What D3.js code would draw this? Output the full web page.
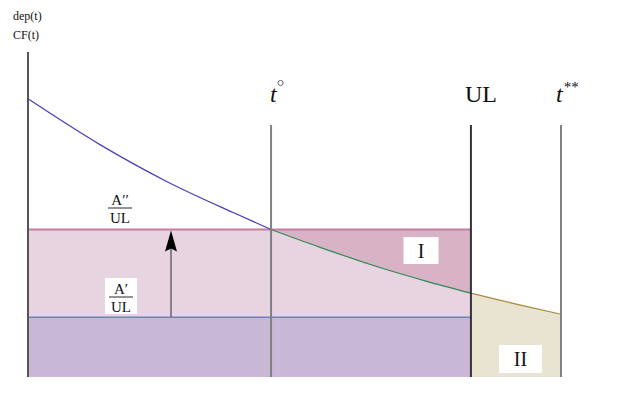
<!DOCTYPE html>
<html>
<head>
<meta charset="utf-8">
<script src="https://cdn.jsdelivr.net/npm/d3@7"></script>
<style>
  body { margin: 0; background: #fff; }
</style>
</head>
<body>
<div id="chart"></div>
<script>
// curve dep(t) / CF(t) (time 0..100, value 0..100)
const curveT = [0, 13.5, 26.1, 38.5, 45.6, 54.8, 66.0, 74.5, 83.1, 91.6, 100];
const curveV = [85.6, 71.5, 60.1, 50.6, 45.4, 39.9, 33.7, 29.6, 25.8, 22.4, 19.3];

// vertical markers
const markerNames = ["t°", "UL", "t**"];
const markerT = [45.6, 83.1, 100];

// horizontal levels A'/UL and A''/UL
const levelNames = ["A′", "A′′"];
const levelV = [18.4, 45.4];

const regionNames = ["I", "II"];

const width = 620, height = 403;
const margin = { top: 52, right: 59, bottom: 26, left: 28 };
const serif = "'Liberation Serif', 'Times New Roman', Times, 'DejaVu Serif', serif";

const svg = d3.select("#chart").append("svg")
  .attr("width", width)
  .attr("height", height)
  .attr("font-family", serif)
  .style("font-family", serif);

const x = d3.scaleLinear().domain([0, 100]).range([margin.left, width - margin.right]);
const y = d3.scaleLinear().domain([0, 100]).range([height - margin.bottom, margin.top]);

const pts = curveT.map((t, i) => ({ t: t, v: curveV[i] }));
const tDeg = markerT[0], tUL = markerT[1], tEnd = markerT[2];
const lo = levelV[0], hi = levelV[1];

const seg = (a, b) => pts.filter(d => d.t >= a - 1e-9 && d.t <= b + 1e-9);

// pink band between the two levels
svg.append("rect")
  .attr("x", x(0)).attr("y", y(hi))
  .attr("width", x(tUL) - x(0)).attr("height", y(lo) - y(hi))
  .attr("fill", "#e8d4e0");

// region I : between upper level and the curve
const areaI = d3.area()
  .x(d => x(d.t)).y0(y(hi)).y1(d => y(d.v))
  .curve(d3.curveMonotoneX);
svg.append("path").datum(seg(tDeg, tUL))
  .attr("d", areaI).attr("fill", "#d8b2c5");

// purple base
svg.append("rect")
  .attr("x", x(0)).attr("y", y(lo))
  .attr("width", x(tUL) - x(0)).attr("height", y(0) - y(lo))
  .attr("fill", "#c9b8d5");

// region II : under the curve after UL
const areaII = d3.area()
  .x(d => x(d.t)).y0(y(0)).y1(d => y(d.v))
  .curve(d3.curveMonotoneX);
svg.append("path").datum(seg(tUL, tEnd))
  .attr("d", areaII).attr("fill", "#e9e3d1");

// level lines
svg.append("line")
  .attr("x1", x(0)).attr("x2", x(tUL)).attr("y1", y(hi)).attr("y2", y(hi))
  .attr("stroke", "#c47fa3").attr("stroke-width", 2);
svg.append("line")
  .attr("x1", x(0)).attr("x2", x(tUL)).attr("y1", y(lo)).attr("y2", y(lo))
  .attr("stroke", "#7080c4").attr("stroke-width", 1.5);

// curve, coloured by segment
const line = d3.line().x(d => x(d.t)).y(d => y(d.v)).curve(d3.curveMonotoneX);
[[0, tDeg, "#4a3fb5"], [tDeg, tUL, "#2f8a55"], [tUL, tEnd, "#a88a3a"]].forEach(s => {
  svg.append("path").datum(seg(s[0], s[1]))
    .attr("d", line).attr("fill", "none")
    .attr("stroke", s[2]).attr("stroke-width", 1.2);
});

// vertical axis
svg.append("line")
  .attr("x1", x(0)).attr("x2", x(0)).attr("y1", y(100)).attr("y2", y(0))
  .attr("stroke", "#555").attr("stroke-width", 2);

// marker lines + labels
markerT.forEach((t, i) => {
  svg.append("line")
    .attr("x1", x(t)).attr("x2", x(t)).attr("y1", 125).attr("y2", y(0))
    .attr("stroke", i == 1 ? "#333" : "#808080").attr("stroke-width", 2);
});
svg.append("text").attr("x", x(tDeg) - 1).attr("y", 102)
  .style("font-size", "24px").style("font-style", "italic").attr("fill", "#111")
  .text("t");
svg.append("circle").attr("cx", x(tDeg) + 9.5).attr("cy", 83).attr("r", 2.6)
  .attr("fill", "none").attr("stroke", "#555").attr("stroke-width", 0.9);
svg.append("text").attr("x", x(tUL) - 6).attr("y", 102)
  .style("font-size", "24px").attr("fill", "#111")
  .text(markerNames[1]);
svg.append("text").attr("x", x(tEnd) - 5).attr("y", 102)
  .style("font-size", "24px").style("font-style", "italic").attr("fill", "#111")
  .text("t")
  .append("tspan").attr("dx", 1).attr("dy", -10).style("font-size", "15px").style("font-style", "normal").text("**");

// axis caption
svg.append("text").attr("x", 13).attr("y", 20).style("font-size", "12px").attr("fill", "#111").text("dep(t)");
svg.append("text").attr("x", 13).attr("y", 39).style("font-size", "12px").attr("fill", "#111").text("CF(t)");

// fraction labels
function fraction(cx, numY, name, box) {
  const g = svg.append("g");
  if (box) {
    g.append("rect").attr("x", cx - 16).attr("y", numY - 16)
      .attr("width", 32).attr("height", 36).attr("fill", "#fff");
  }
  g.append("text").attr("x", cx).attr("y", numY)
    .attr("text-anchor", "middle").style("font-size", "15px").attr("fill", "#111").text(name);
  g.append("line").attr("x1", cx - 12).attr("x2", cx + 12)
    .attr("y1", numY + 3).attr("y2", numY + 3)
    .attr("stroke", "#111").attr("stroke-width", 0.9);
  g.append("text").attr("x", cx).attr("y", numY + 18)
    .attr("text-anchor", "middle").style("font-size", "15px").attr("fill", "#111").text("UL");
}
fraction(120, 205, levelNames[1], false);
fraction(121, 294, levelNames[0], true);

// arrow from lower to upper level
svg.append("line")
  .attr("x1", 171).attr("x2", 171).attr("y1", y(lo)).attr("y2", y(hi) + 15)
  .attr("stroke", "#666").attr("stroke-width", 1.5);
svg.append("path")
  .attr("d", `M171,${y(hi) + 1} L165,${y(hi) + 22} L171,${y(hi) + 19} L177,${y(hi) + 22} Z`)
  .attr("fill", "#000");

// region labels in white boxes
function boxLabel(cx, cy, w, h, txt) {
  svg.append("rect").attr("x", cx - w / 2).attr("y", cy - h / 2)
    .attr("width", w).attr("height", h).attr("fill", "#fff");
  svg.append("text").attr("x", cx).attr("y", cy + 7)
    .attr("text-anchor", "middle").style("font-size", "20px").attr("fill", "#111").text(txt);
}
boxLabel(421, 250.5, 35, 27, regionNames[0]);
boxLabel(520.5, 359, 43, 28, regionNames[1]);
</script>
</body>
</html>
